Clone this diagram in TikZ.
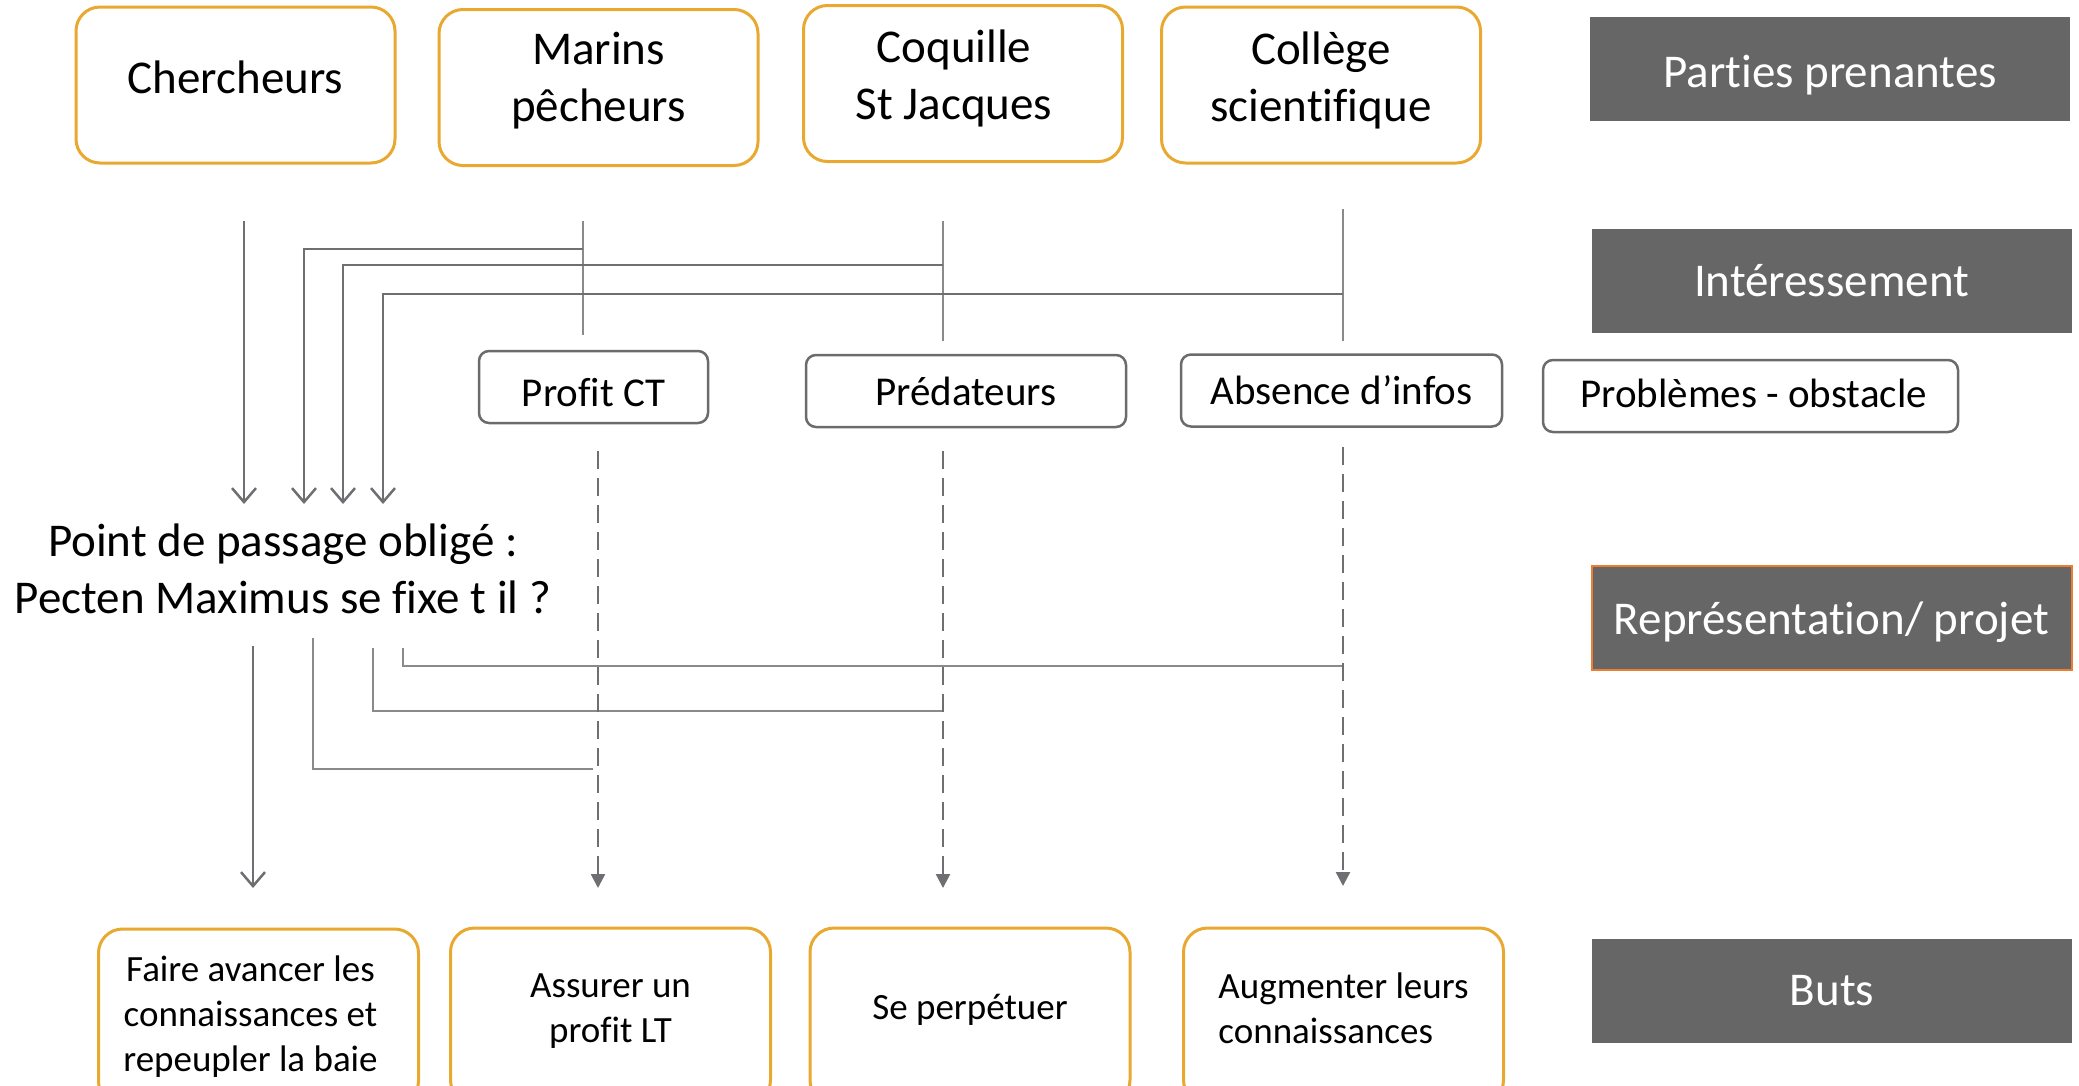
\documentclass[tikz,border=0pt]{standalone}
\usepackage{fontspec}
\setmainfont{Carlito}[Ligatures=NoCommon]
\usetikzlibrary{arrows.meta}
\definecolor{gold}{HTML}{E9A830}
\definecolor{darkbox}{HTML}{666666}
\definecolor{rorange}{HTML}{ED7D31}
\definecolor{lgray}{HTML}{8A8A8A}
\definecolor{agray}{HTML}{6E6E73}
\definecolor{bgray}{HTML}{6B6B6B}
\begin{document}
\begin{tikzpicture}[x=1pt,y=-1pt,
 topbox/.style={draw=gold,line width=3pt,rounded corners=24pt,minimum width=319pt,minimum height=156pt},
 botbox/.style={draw=gold,line width=3pt,rounded corners=24pt,minimum width=320pt,minimum height=176pt},
 midbox/.style={draw=bgray,line width=2.5pt,rounded corners=10pt,minimum height=72pt},
 stage/.style={fill=darkbox,minimum width=480pt,minimum height=104pt},
 bigtxt/.style={align=center,font=\fontsize{47}{57}\selectfont,inner sep=0pt},
 midtxt/.style={align=center,font=\fontsize{41}{49}\selectfont,inner sep=0pt},
 smalltxt/.style={align=center,font=\fontsize{37}{45}\selectfont,inner sep=0pt},
 stagetxt/.style={bigtxt,text=white},
 ln/.style={draw=lgray,line width=2pt},
 arr/.style={draw=agray,line width=2.5pt,-{Straight Barb[length=14pt,width=24pt]}},
 darr/.style={draw=agray,line width=2.5pt,dash pattern=on 18pt off 9pt,-{Triangle[length=14pt,width=14pt]}},
]
\useasboundingbox (0,0) rectangle (2079,1085);
\clip (0,0) rectangle (2079,1085);

% stakeholders
\node[topbox] (cher) at (235.5,85) {};
\node[bigtxt] (cherT) at ([yshift=8pt]cher.center) {Chercheurs};
\node[topbox] (mar) at (598.5,87.5) {};
\node[bigtxt] (marT) at ([yshift=7pt]mar.center) {Marins\\pêcheurs};
\node[topbox] (coq) at (963,83.5) {};
\node[bigtxt] (coqT) at ([xshift=-9pt,yshift=5.5pt]coq.center) {Coquille\\St Jacques};
\node[topbox] (col) at (1321,85) {};
\node[bigtxt] (colT) at ([yshift=5pt]col.center) {Collège\\scientifique};

% stage labels
\node[stage] (s1) at (1830,69) {};
\node[stagetxt] (s1T) at ([yshift=-6pt]s1.center) {Parties prenantes};
\node[stage] (s2) at (1831.5,281) {};
\node[stagetxt] (s2T) at (s2.center) {Intéressement};
\node[stage,draw=rorange,line width=2pt] (s3) at (1831.5,617.5) {};
\node[stagetxt] (s3T) at ([yshift=-4.5pt]s3.center) {Représentation/ projet};
\node[stage] (s4) at (1832,990.5) {};
\node[stagetxt] (s4T) at (s4.center) {Buts};

% problems
\node[midbox,minimum width=229pt] (pct) at (593.5,387) {};
\node[midtxt] (pctT) at ([yshift=-6pt]pct.center) {Profit CT};
\node[midbox,minimum width=320pt] (pred) at (966,391) {};
\node[midtxt] (predT) at (pred.center) {Prédateurs};
\node[midbox,minimum width=321pt] (abs) at (1341.5,390.5) {};
\node[midtxt] (absT) at (abs.center) {Absence d’infos};
\node[midbox,minimum width=415pt] (prob) at (1750.5,396) {};
\node[midtxt] (probT) at ([xshift=3pt,yshift=3pt]prob.center) {Problèmes - obstacle};

% obligatory passage point
\node[bigtxt] (ppo) at (283,569) {Point de passage obligé :\\Pecten Maximus se fixe t il ?};

% goals
\node[botbox] (g1) at (258.5,1017) {};
\node[smalltxt] (g1T) at ([xshift=-8pt]g1.center) {Faire avancer les\\connaissances et\\repeupler la baie};
\node[botbox] (g2) at (610.5,1016) {};
\node[smalltxt] (g2T) at ([yshift=5pt]g2.center) {Assurer un\\profit LT};
\node[botbox] (g3) at (970,1016) {};
\node[smalltxt] (g3T) at ([yshift=6.5pt]g3.center) {Se perpétuer};
\node[botbox] (g4) at (1343.5,1016) {};
\node[smalltxt,align=left] (g4T) at ([yshift=8pt]g4.center) {Augmenter leurs\\connaissances};

% coordinates (upper part)
\coordinate (cherS) at (244,221);
\coordinate (a1) at (244,504);
\coordinate (a2) at (304,504);
\coordinate (a3) at (343,504);
\coordinate (a4) at (383,504);
\coordinate (marS) at (583,221);
\coordinate (marE) at (583,335);
\coordinate (marJ) at (583,249);
\coordinate (coqS) at (943,221);
\coordinate (coqE) at (943,341);
\coordinate (coqJ) at (943,265);
\coordinate (colS) at (1343,209);
\coordinate (colE) at (1343,341);
\coordinate (colJ) at (1343,294);

\draw[ln] (marS) -- (marE);
\draw[ln] (coqS) -- (coqE);
\draw[ln] (colS) -- (colE);
\draw[arr] (cherS) -- (a1);
\draw[arr] (marJ) -| (a2);
\draw[arr] (coqJ) -| (a3);
\draw[arr] (colJ) -| (a4);

% coordinates (lower part)
\coordinate (b0s) at (253,646);
\coordinate (b0e) at (253,888);
\coordinate (b1s) at (313,638);
\coordinate (b1e) at (593,769);
\coordinate (b2s) at (373,648);
\coordinate (b2e) at (943,711);
\coordinate (b3s) at (403,648);
\coordinate (b3e) at (1343,666);
\coordinate (d1s) at (598,451);
\coordinate (d1e) at (598,888);
\coordinate (d2s) at (943,451);
\coordinate (d2e) at (943,888);
\coordinate (d3s) at (1343,447);
\coordinate (d3e) at (1343,886);

\draw[arr] (b0s) -- (b0e);
\draw[ln] (b1s) |- (b1e);
\draw[ln] (b2s) |- (b2e);
\draw[ln] (b3s) |- (b3e);
\draw[darr] (d1s) -- (d1e);
\draw[darr] (d2s) -- (d2e);
\draw[darr] (d3s) -- (d3e);
\end{tikzpicture}
\end{document}
